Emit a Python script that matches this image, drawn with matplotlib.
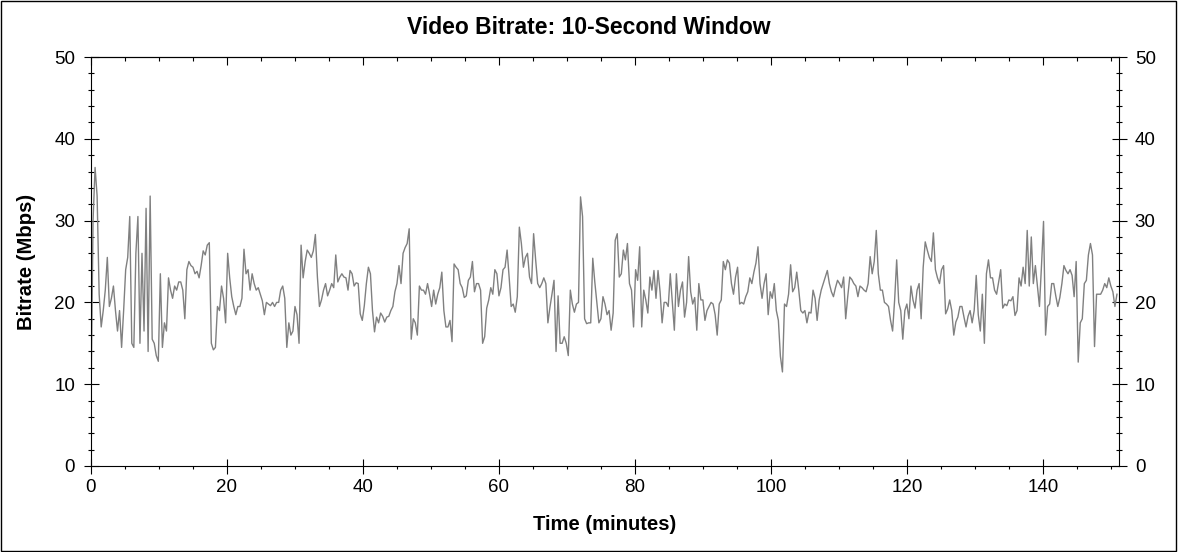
import numpy as np
import matplotlib
matplotlib.use("Agg")
import matplotlib.pyplot as plt
from matplotlib.patches import Rectangle
from matplotlib.ticker import MultipleLocator

# ── data (Mbps, one sample every 0.3 min) ─────────────────────────────────────
SAMPLE_STEP_MIN = 0.3
BITRATE_MBPS = [
    7.8, 30, 36.5, 33, 21, 17, 19, 21.5, 25.5, 19.5,
    20.5, 22, 19, 16.5, 19, 14.5, 19, 24, 25.5, 30.5,
    15, 14.5, 26, 30.5, 15, 26, 16.5, 31.5, 14, 33,
    15.5, 15, 13.5, 12.8, 23.5, 14.5, 17.5, 16.5, 23, 21.5,
    20.5, 22, 21.5, 22.5, 22.5, 21.5, 18, 24, 25, 24.5,
    24.3, 23.5, 23.8, 23, 24.5, 26.3, 25.8, 27, 27.3, 15,
    14.2, 14.5, 19.5, 19, 22, 20.5, 17.5, 26, 23, 20.7,
    19.5, 18.5, 19.5, 19.5, 20.5, 26.5, 23.5, 24, 21.5, 23.5,
    22.3, 21.5, 21.8, 21, 20.2,
    18.5, 20, 19.8, 19.6, 20, 19.5, 20, 20, 21.5, 22,
    20.5, 14.5, 17.5, 16, 16.5, 19.5, 18.5, 15, 27, 23,
    25, 26.4, 26, 25.5, 26.3, 28.3, 23.1, 19.5, 20.3, 21.5,
    22.3, 20.8, 21.5, 22.3, 21.8, 25.8, 22.5, 23.1, 23.5, 23.1,
    23, 21.5, 23.9, 23.5, 22, 22.4, 22.3, 18.6, 17.8, 19.6,
    22.3, 24.3, 23.5, 19, 16.4, 18.2, 17.5, 18.7, 18.3, 17.6,
    18.2, 18.3, 19, 19.5, 21.3, 22.3, 24.5, 22.3, 26, 26.7,
    27.2, 29, 15.5, 18, 17.5, 16, 22, 21.5, 21.5, 21,
    22.3, 21, 19.5,
    21.5, 19.8, 21, 21.8, 23.7, 19, 17, 17, 17.8, 15.2,
    24.7, 24.3, 24, 22.3, 21.8, 20.6, 20.8, 22.7, 23.1, 25,
    21.3, 22.3, 22.3, 21.5, 15, 15.8, 19.3, 20.3, 21.8, 21,
    24, 23.5, 20.8, 21.8, 24, 24.3, 26.4, 23.1, 19.5, 19.8,
    18.8, 20.7, 29.2, 27.2, 24.3, 25.5, 26, 23.1, 22.3, 28.4,
    25.2, 22.3, 21.8, 22.3, 23, 22.3, 17.5, 19.4, 21, 22.7,
    14, 20.8, 15, 15, 15.8, 15, 13.5, 21.5, 19.8, 18.8,
    19.8, 20, 32.9, 30.5, 18, 17.4, 17.5, 17.5, 25.4, 22.5,
    20, 17.5, 18,
    20.7, 19.8, 18.5, 19, 16.6, 18.7, 27.6, 28.4, 23.1, 23.5,
    26.4, 25.2, 27.2, 22.3, 21.5, 17, 24, 22.7, 26.8, 17,
    21.5, 20.3, 18.7, 23.1, 21.5, 23.9, 20.5, 23.9, 21.3, 17.5,
    20, 20, 19.5, 23.5, 20, 16.6, 23.5, 19.5, 21.5, 22.5,
    18.2, 20, 25.6, 21.3, 19.8, 20.6, 16.6, 22.3, 20.3, 20.3,
    17.8, 19, 19.5, 20, 19.8, 18.5, 16, 19.8, 20.3, 25,
    24, 25.2, 24.8, 22.3, 21, 23.1, 24.3, 19.8, 20, 19.8,
    20.7, 21.3, 23, 22.3, 23.7, 24.8, 26.8, 22.3, 20.5, 22.3,
    23.5, 18.5, 21.3,
    20.5, 22.3, 19, 17.8, 13.4, 11.5, 19.8, 19.5, 21, 24.6,
    21.3, 21.8, 23.7, 21.5, 19, 18.7, 19, 17.5, 18.8, 18.7,
    21.5, 20.5, 17.8, 20.3, 21.5, 22.3, 23.1, 23.9, 22.3, 21.3,
    20.7, 21.8, 22.7, 22.3, 21.8, 23.1, 18, 20.7, 23.1, 22.8,
    22.3, 22, 20.7, 22, 21.8, 21.5, 21.3, 22.3, 25.6, 23.5,
    25, 28.8, 23.5, 21.5, 21.5, 20, 19.8, 19.5, 17.8, 16.5,
    20.3, 25.2, 20, 19, 15.5, 19, 19.8, 18, 22, 20.3,
    19.3, 21.5, 22.3, 18, 24.3, 27.4, 26.4, 25.5, 25, 28.5,
    24, 23, 22.3, 24,
    24.5, 18.6, 19.2, 20.3, 19, 16, 17.6, 18.2, 19.5, 19.5,
    18.2, 17, 18.3, 19, 17.5, 19, 23.3, 18.5, 16.5, 21,
    15, 23.5, 25.2, 23, 23, 21.5, 21, 22.5, 24, 19.3,
    19.8, 19.6, 20.3, 20.2, 20.7, 18.4, 19, 23, 22, 24.3,
    22.3, 28.8, 22, 28, 22.3, 24.5, 22, 19.5, 24.5, 29.9,
    16, 19.5, 19.8, 22.3, 22.3, 20.8, 19.5, 20.6, 22.3, 24.5,
    23.9, 23.5, 24, 23.3, 20.7, 25, 12.7, 17.5, 18, 22.3,
    22.7, 25.8, 27.2, 25.8, 14.6, 21, 21, 21, 21.5, 22.3,
    21.8, 23, 22, 21.3, 19.5, 21,
]
X_TICKS = [0, 20, 40, 60, 80, 100, 120, 140]
Y_TICKS = [0, 10, 20, 30, 40, 50]
X_MAX = 151.2

TITLE = "Video Bitrate: 10-Second Window"
X_LABEL = "Time (minutes)"
Y_LABEL = "Bitrate (Mbps)"

# ── style ─────────────────────────────────────────────────────────────────────
plt.rcParams["font.family"] = ["Liberation Sans", "DejaVu Sans"]
C_LINE = "#808080"
W, H, DPI = 1178, 552, 100

fig = plt.figure(figsize=(W / DPI, H / DPI), dpi=DPI, facecolor="white")
ax = fig.add_axes([91 / W, (H - 466) / H, 1028 / W, 409 / H])

minutes = np.arange(len(BITRATE_MBPS)) * SAMPLE_STEP_MIN
ax.plot(minutes, BITRATE_MBPS, color=C_LINE, lw=1.0)

ax.set_xlim(0, X_MAX)
ax.set_ylim(0, 50)
ax.set_xticks(X_TICKS)
ax.set_yticks(Y_TICKS)
ax.xaxis.set_minor_locator(MultipleLocator(5))
ax.yaxis.set_minor_locator(MultipleLocator(2))

for sp in ax.spines.values():
    sp.set_linewidth(0.8)

ax.tick_params(axis="x", which="major", direction="inout", length=10.8,
               width=0.8, labelsize=13.5, pad=4, top=False)
ax.tick_params(axis="x", which="minor", direction="out", length=2.4,
               width=0.8, top=False)
ax.tick_params(axis="y", which="major", direction="inout", length=10.8,
               width=0.8, labelsize=13.5, pad=6, right=True, labelright=True)
ax.tick_params(axis="y", which="minor", direction="inout", length=5,
               width=0.8, right=True)

# top axis: ticks pointing inward only
top = ax.secondary_xaxis("top")
top.set_xticks(X_TICKS)
top.xaxis.set_minor_locator(MultipleLocator(5))
top.tick_params(which="major", direction="in", length=5.8, width=0.8,
                labeltop=False)
top.tick_params(which="minor", direction="in", length=2.9, width=0.8)
top.spines["top"].set_linewidth(0.8)

ax.set_xlabel(X_LABEL, fontsize=14.6, fontweight="bold")
ax.set_ylabel(Y_LABEL, fontsize=14.6, fontweight="bold")
ax.xaxis.set_label_coords(0.5, (466 - 515) / 409)
ax.yaxis.set_label_coords((36 - 91) / 1028, 0.5)

fig.text(0.5, 1 - 28 / H, TITLE, ha="center", va="center",
         fontsize=16.5, fontweight="bold")

# thin frame round the whole picture
fig.patches.append(Rectangle((0.5 / W, 1.5 / H), 1 - 3 / W, 1 - 2.5 / H,
                             transform=fig.transFigure, fill=False,
                             edgecolor="black", linewidth=1.0))

fig.savefig("out.png", dpi=DPI, facecolor="white")
